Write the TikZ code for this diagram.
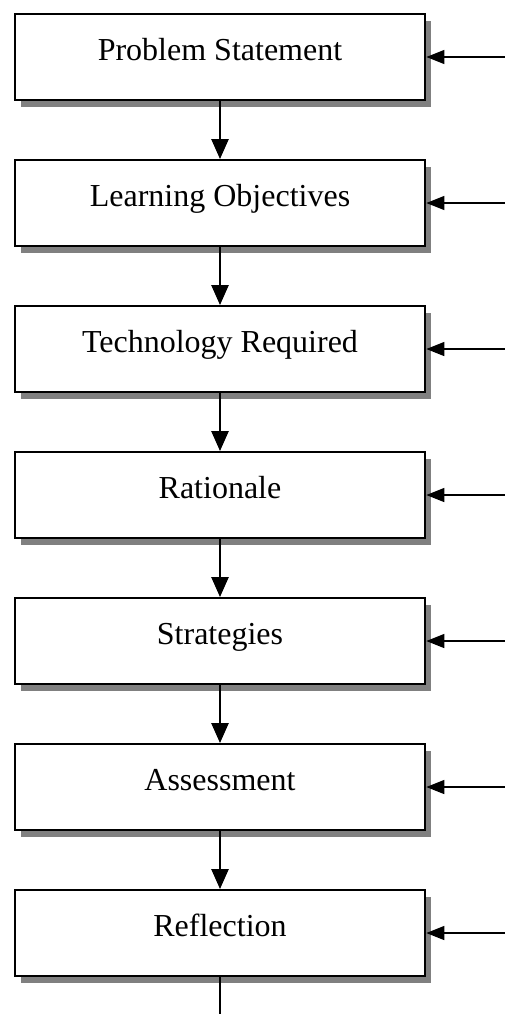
\documentclass[tikz,border=0pt]{standalone}
\usepackage{fontspec}
\setmainfont{Liberation Serif}
\usetikzlibrary{arrows.meta, shadows}

\begin{document}
\begin{tikzpicture}[x=0.75pt, y=-0.75pt,
    stage/.style={draw, line width=1.5pt, fill=white,
        minimum width=308pt, minimum height=64.5pt,
        text height=17pt, text depth=12.5pt,
        font=\fontsize{24}{28}\selectfont,
        drop shadow={shadow xshift=4.5pt, shadow yshift=-5.5pt, fill=black!50, opacity=1}},
    flow/.style={line width=1.2pt, -{Triangle[length=15pt, width=13pt]}},
    feed/.style={line width=1pt, -{Triangle[length=13.5pt, width=10.5pt]}}]

   \useasboundingbox (0,0) rectangle (505,1014);

   % The stages
   \node[stage] (PS) at (220,57)  {Problem Statement};
   \node[stage] (LO) at (220,203) {Learning Objectives};
   \node[stage] (TR) at (220,349) {Technology Required};
   \node[stage] (RA) at (220,495) {Rationale};
   \node[stage] (ST) at (220,641) {Strategies};
   \node[stage] (AS) at (220,787) {Assessment};
   \node[stage] (RE) at (220,933) {Reflection};

   % Free ends of the lines
   \coordinate (P) at (505,57);
   \coordinate (L) at (505,203);
   \coordinate (T) at (505,349);
   \coordinate (R) at (505,495);
   \coordinate (S) at (505,641);
   \coordinate (A) at (505,787);
   \coordinate (F) at (505,933);
   \coordinate (E) at (220,1014);

   % Arrows down the chain
   \draw[flow] (PS) -- (LO);
   \draw[flow] (LO) -- (TR);
   \draw[flow] (TR) -- (RA);
   \draw[flow] (RA) -- (ST);
   \draw[flow] (ST) -- (AS);
   \draw[flow] (AS) -- (RE);
   \draw[line width=1.2pt] (RE) -- (E);

   % Arrows coming in from the right
   \draw[feed] (P) -- (PS);
   \draw[feed] (L) -- (LO);
   \draw[feed] (T) -- (TR);
   \draw[feed] (R) -- (RA);
   \draw[feed] (S) -- (ST);
   \draw[feed] (A) -- (AS);
   \draw[feed] (F) -- (RE);

\end{tikzpicture}
\end{document}
